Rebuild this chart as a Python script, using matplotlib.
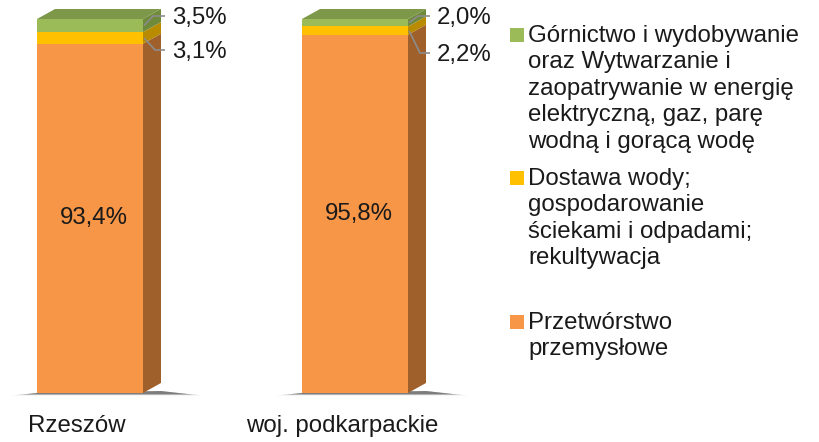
import matplotlib
matplotlib.use("Agg")
import matplotlib.pyplot as plt
from matplotlib.patches import Polygon
import numpy as np

plt.rcParams["font.family"] = ["Liberation Sans", "DejaVu Sans"]

# Data
categories = ["Rzeszów", "woj. podkarpackie"]
przetworstwo = [93.4, 95.8]
dostawa = [3.1, 2.2]
gornictwo = [3.5, 2.0]
labels_przetw = ["93,4%", "95,8%"]
labels_dostawa = ["3,1%", "2,2%"]
labels_gornictwo = ["3,5%", "2,0%"]

legend_texts = [
    "Górnictwo i wydobywanie\noraz Wytwarzanie i\nzaopatrywanie w energię\nelektryczną, gaz, parę\nwodną i gorącą wodę",
    "Dostawa wody;\ngospodarowanie\nściekami i odpadami;\nrekultywacja",
    "Przetwórstwo\nprzemysłowe",
]

# Colours: front / side / top
FRONT = {"orange": "#F79646", "yellow": "#FFC000", "green": "#9BBB59"}
SIDE = {"orange": "#A0602C", "yellow": "#B88B00", "green": "#6E8A3A"}
TOP_GREEN = "#7C9848"

W, H = 819, 442
FS = 17.3

fig = plt.figure(figsize=(W / 100, H / 100), dpi=100)
ax = fig.add_axes([0, 0, 1, 1])

# axes: x=0 at px 90, 1 unit = 265 px; y=0 at px 393 (from top), 100% = 374 px
px_x = 265.0
px_y = 3.74
ax.set_xlim(-90 / px_x, (W - 90) / px_x)
ax.set_ylim(-(H - 393) / px_y, 393 / px_y)
ax.axis("off")


def ypix(p):
    """pixel row (from top) -> data y"""
    return (393 - p) / px_y


x = np.arange(len(categories))
width = 106 / px_x
dx = 18 / px_x   # depth offset (3D)
dy = 10 / px_y

series = [("orange", przetworstwo), ("yellow", dostawa), ("green", gornictwo)]

# floor shadow
for xi in x:
    for k, a in enumerate([0.08, 0.12, 0.18, 0.25]):
        grow = (4 - k) * 0.02
        sh = Polygon([(xi - width / 2 - grow - 0.02, -0.3 - 0.12 * (3 - k)),
                      (xi + width / 2 + dx + grow + 0.08, -0.3 - 0.12 * (3 - k)),
                      (xi + width / 2 + dx, dy * 0.2),
                      (xi - width / 2, 0.0)],
                     closed=True, facecolor="black", edgecolor="none", alpha=a, zorder=1)
        ax.add_patch(sh)

bottom = np.zeros(len(x))
for name, vals in series:
    vals = np.array(vals)
    ax.bar(x, vals, width, bottom=bottom, color=FRONT[name], edgecolor="none", zorder=3)
    for i, xi in enumerate(x):
        r = xi + width / 2
        b, t = bottom[i], bottom[i] + vals[i]
        side = Polygon([(r, b), (r + dx, b + dy), (r + dx, t + dy), (r, t)],
                       closed=True, facecolor=SIDE[name], edgecolor="none", zorder=2)
        ax.add_patch(side)
    bottom = bottom + vals

# top face
for i, xi in enumerate(x):
    l, r, t = xi - width / 2, xi + width / 2, bottom[i]
    top = Polygon([(l, t), (r, t), (r + dx, t + dy), (l + dx, t + dy)],
                  closed=True, facecolor=TOP_GREEN, edgecolor="none", zorder=3)
    ax.add_patch(top)

# inner labels
for i, xi in enumerate(x):
    ax.text(xi + 4 / px_x, przetworstwo[i] / 2, labels_przetw[i], ha="center", va="center",
            fontsize=FS, color="#1a1a1a", zorder=5)

# leader lines + outside labels
line_kw = dict(color="#8C8C8C", lw=1.2, zorder=4, solid_capstyle="butt")
green_line_px = [16, 16]
yellow_line_px = [50, 53]
for i, xi in enumerate(x):
    r = xi + width / 2
    g_mid = przetworstwo[i] + dostawa[i] + gornictwo[i] / 2
    y_mid = przetworstwo[i] + dostawa[i] / 2
    gy = ypix(green_line_px[i])
    yy = ypix(yellow_line_px[i])
    ax.plot([r + 1 / px_x, r + 10 / px_x, r + 22 / px_x], [g_mid, gy, gy], **line_kw)
    ax.plot([r + 1 / px_x, r + 12 / px_x, r + 22 / px_x], [y_mid, yy, yy], **line_kw)
    ax.text(r + 29 / px_x, gy - 0.5, labels_gornictwo[i], ha="left", va="center",
            fontsize=FS, color="#1a1a1a")
    ax.text(r + 29 / px_x, yy - 0.5, labels_dostawa[i], ha="left", va="center",
            fontsize=FS, color="#1a1a1a")

# category labels
for i, xi in enumerate(x):
    ax.text(xi - 13 / px_x, ypix(426), categories[i], ha="center", va="center",
            fontsize=FS, color="#1a1a1a")

# legend (drawn manually in pixel positions)
leg_colors = [FRONT["green"], FRONT["yellow"], FRONT["orange"]]
leg_first_y = [35, 178, 322]
for col, txt, yy in zip(leg_colors, legend_texts, leg_first_y):
    fig.patches.append(plt.Rectangle((510 / W, 1 - (yy + 7) / H), 14 / W, 14 / H,
                                     transform=fig.transFigure, facecolor=col,
                                     edgecolor="none"))
    fig.text(528 / W, 1 - (yy - 10) / H, txt, ha="left", va="top", fontsize=FS,
             linespacing=1.26, color="#1a1a1a")

fig.savefig("out.png", dpi=100)
